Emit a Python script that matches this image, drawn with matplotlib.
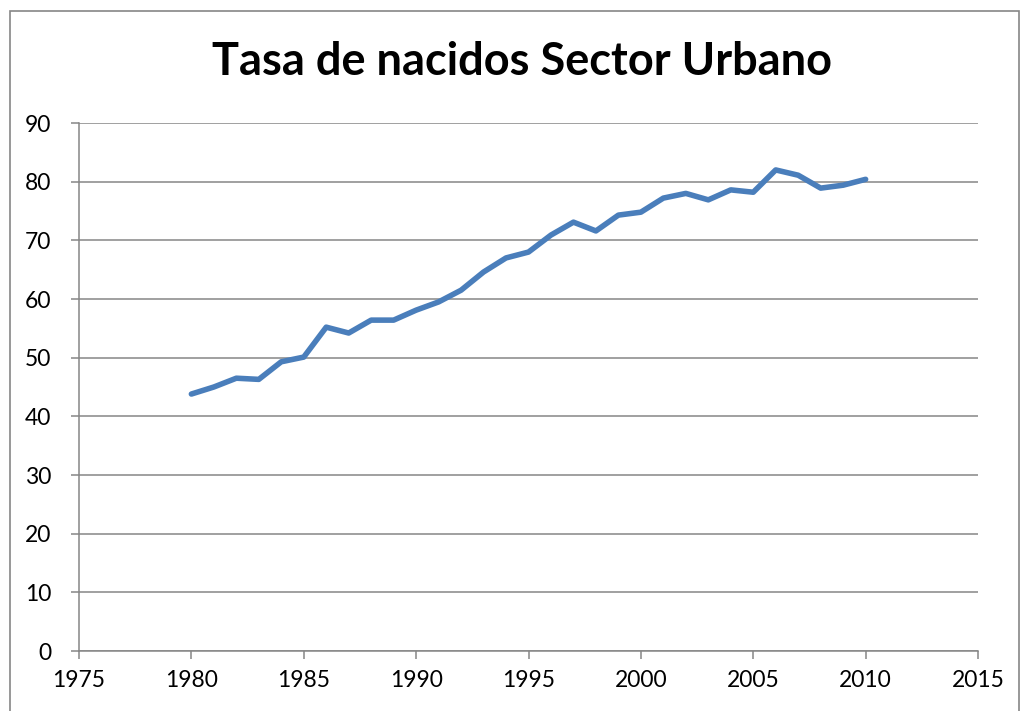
import matplotlib
matplotlib.use("Agg")
import matplotlib.pyplot as plt
from matplotlib.patches import Rectangle

# datos
anios = list(range(1980, 2011))
tasa = [43.8, 45.0, 46.5, 46.3, 49.3, 50.1, 55.2, 54.2, 56.4, 56.4,
        58.1, 59.5, 61.5, 64.6, 67.0, 68.0, 70.9, 73.1, 71.6, 74.3,
        74.8, 77.2, 78.0, 76.9, 78.6, 78.2, 82.0, 81.1, 78.9, 79.4, 80.4]
titulo = "Tasa de nacidos Sector Urbano"

plt.rcParams['font.family'] = ['Lato', 'DejaVu Sans']
W, H = 1022, 711
fig = plt.figure(figsize=(W/100, H/100), dpi=100)
ax = fig.add_axes([79/W, 1-651/H, (978-79)/W, (651-123)/H])

# borde exterior del area del grafico
fig.patches.append(Rectangle((10/W, -0.01), (1019-10)/W, 1-11/H+0.01,
                             transform=fig.transFigure, fill=False,
                             edgecolor='#868686', linewidth=1.2))

ax.plot(anios, tasa, color='#4A7EBB', linewidth=4.0,
        solid_capstyle='round', solid_joinstyle='round', zorder=3)

ax.set_xlim(1975, 2015)
ax.set_ylim(0, 90)
ax.set_xticks(range(1975, 2016, 5))
ax.set_yticks(range(0, 91, 10))
ax.grid(axis='y', color='#868686', linewidth=1.1)
ax.set_axisbelow(True)
for s in ['top', 'right']:
    ax.spines[s].set_visible(False)
for s in ['left', 'bottom']:
    ax.spines[s].set_color('#868686')
    ax.spines[s].set_linewidth(1.1)
ax.tick_params(axis='both', colors='#868686', labelcolor='black',
               labelsize=16.5, length=6, width=1.1)
ax.tick_params(axis='x', pad=8)
ax.tick_params(axis='y', pad=14)

fig.text(522/W, 1-62/H, titulo, ha='center', va='center',
         fontsize=32.5, fontweight='bold')

fig.savefig("out.png", dpi=100)
